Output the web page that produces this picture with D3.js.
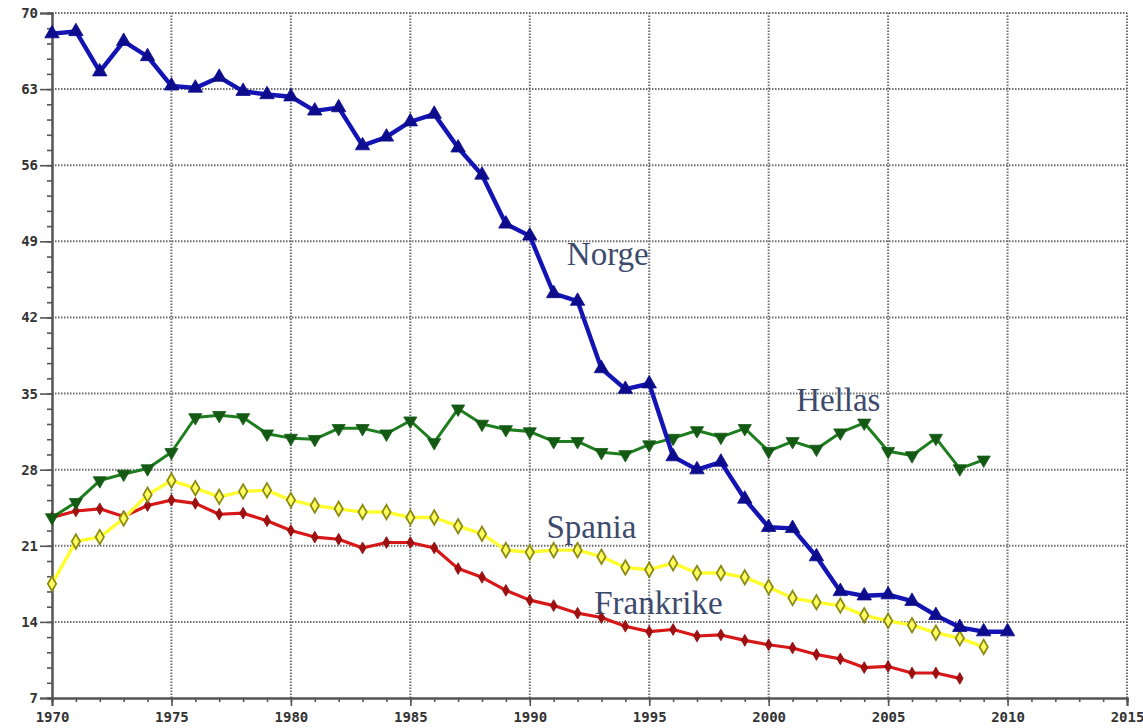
<!DOCTYPE html>
<html><head><meta charset="utf-8">
<script src="https://cdn.jsdelivr.net/npm/d3@7"></script>
<style>
html,body{margin:0;padding:0;background:#fff;}
svg{display:block;}
</style></head>
<body>
<script>
const years = d3.range(1970, 2011);
const norge = [68.1,68.3,64.6,67.4,66.0,63.3,63.1,64.1,62.8,62.5,62.3,61.0,61.3,57.8,58.6,60.0,60.7,57.6,55.1,50.6,49.5,44.2,43.5,37.3,35.4,35.9,29.2,28.0,28.7,25.3,22.7,22.6,20.0,16.8,16.4,16.5,15.9,14.6,13.5,13.1,13.1];
const hellas = [23.6,25.0,27.0,27.6,28.1,29.6,32.8,33.0,32.8,31.3,30.9,30.8,31.8,31.8,31.3,32.5,30.5,33.6,32.2,31.7,31.5,30.6,30.6,29.6,29.4,30.3,30.9,31.6,31.0,31.8,29.7,30.6,29.9,31.4,32.3,29.7,29.3,30.9,28.1,28.9];
const spania = [17.5,21.4,21.8,23.5,25.7,27.0,26.3,25.5,26.0,26.1,25.2,24.7,24.4,24.1,24.1,23.6,23.6,22.8,22.1,20.6,20.4,20.6,20.6,20.0,19.0,18.8,19.4,18.5,18.5,18.1,17.2,16.2,15.8,15.5,14.6,14.1,13.7,13.0,12.5,11.7];
const frankrike = [23.6,24.2,24.4,23.7,24.7,25.2,24.9,23.9,24.0,23.3,22.4,21.8,21.6,20.8,21.3,21.3,20.8,18.9,18.1,16.9,16.0,15.5,14.8,14.4,13.6,13.1,13.3,12.7,12.8,12.3,11.9,11.6,11.0,10.6,9.8,9.9,9.3,9.3,8.8];
const yTicks = [7,14,21,28,35,42,49,56,63,70];
const xTicks = [1970,1975,1980,1985,1990,1995,2000,2005,2010,2015];
const labels = [
  {text:"Norge", year:1991.55, value:46.8},
  {text:"Hellas", year:2001.15, value:33.4},
  {text:"Spania", year:1990.7, value:21.7},
  {text:"Frankrike", year:1992.7, value:14.75}
];

const W = 1143, H = 728;
const m = {left:52, right:16, top:13, bottom:30};
const svg = d3.select("body").append("svg").attr("width", W).attr("height", H);
const x = d3.scaleLinear().domain([1970, 2015]).range([m.left, W - m.right]);
const y = d3.scaleLinear().domain([7, 70]).range([H - m.bottom, m.top]);

// grid
const grid = svg.append("g").attr("stroke", "#4a4a4a").attr("stroke-width", 2).attr("stroke-dasharray", "1.5,1.5").attr("opacity", 0.8);
yTicks.filter(d => d > 7).forEach(v => {
  grid.append("line").attr("x1", x(1970)).attr("x2", x(2015)).attr("y1", y(v)).attr("y2", y(v));
});
xTicks.filter(d => d > 1970).forEach(v => {
  grid.append("line").attr("x1", x(v)).attr("x2", x(v)).attr("y1", y(7)).attr("y2", y(70));
});

// axes
const tickFont = "bold 14px 'DejaVu Sans Mono', monospace";
const xAxisMinor = d3.axisBottom(x).tickValues(d3.range(1970, 2016)).tickSize(4).tickFormat("");
const gxm = svg.append("g").attr("transform", `translate(0,${y(7)})`).call(xAxisMinor);
const xAxis = d3.axisBottom(x).tickValues(xTicks).tickSize(8).tickPadding(6).tickFormat(d3.format("d"));
const gx = svg.append("g").attr("transform", `translate(0,${y(7)})`).call(xAxis);
const yAxisMinor = d3.axisLeft(y).tickValues(d3.range(7, 70.01, 1.4)).tickSize(5).tickFormat("");
const gym = svg.append("g").attr("transform", `translate(${x(1970)},0)`).call(yAxisMinor);
const yAxis = d3.axisLeft(y).tickValues(yTicks).tickSize(12).tickPadding(2).tickFormat(d3.format("d"));
const gy = svg.append("g").attr("transform", `translate(${x(1970)},0)`).call(yAxis);
[gx, gy, gxm, gym].forEach(g => {
  g.selectAll(".domain").attr("stroke", "#555").attr("stroke-width", 2);
  g.selectAll(".tick line").attr("stroke", "#555").attr("stroke-width", 1.6);
  g.selectAll("text").style("font", tickFont).attr("fill", "#333");
});
gy.selectAll(".tick line").attr("x1", 1);
gx.selectAll(".tick line").attr("y1", -1);

function drawSeries(vals, color, width, markerFn) {
  const data = vals.map((v, i) => ({year: years[i], value: v}));
  const line = d3.line().x(d => x(d.year)).y(d => y(d.value));
  const g = svg.append("g");
  g.append("path").datum(data).attr("d", line).attr("fill", "none")
    .attr("stroke", color).attr("stroke-width", width).attr("stroke-linejoin", "round");
  data.forEach(d => markerFn(g, x(d.year), y(d.value)));
}

const sym = (type, size) => d3.symbol().type(type).size(size)();

drawSeries(frankrike, "#d81818", 3.2, (g, cx, cy) => {
  g.append("path").attr("d", sym(d3.symbolDiamond, 40)).attr("transform", `translate(${cx},${cy})`)
    .attr("fill", "#a01010").attr("stroke", "#8a0a0a").attr("stroke-width", 0.8);
});
drawSeries(spania, "#ffff30", 3.4, (g, cx, cy) => {
  g.append("path").attr("d", sym(d3.symbolDiamond, 60)).attr("transform", `translate(${cx},${cy})`)
    .attr("fill", "#ffff60").attr("stroke", "#8c8a10").attr("stroke-width", 1.8);
});
drawSeries(hellas, "#1e7d1e", 3, (g, cx, cy) => {
  g.append("path").attr("d", sym(d3.symbolTriangle, 75)).attr("transform", `translate(${cx},${cy}) rotate(180)`)
    .attr("fill", "#145a14").attr("stroke", "#145a14").attr("stroke-width", 0.8);
});
drawSeries(norge, "#1414b4", 4.4, (g, cx, cy) => {
  g.append("path").attr("d", sym(d3.symbolTriangle, 90)).attr("transform", `translate(${cx},${cy})`)
    .attr("fill", "#0c0c8c").attr("stroke", "#0c0c8c").attr("stroke-width", 0.8);
});

// labels
svg.append("g").selectAll("text").data(labels).join("text")
  .attr("x", d => x(d.year)).attr("y", d => y(d.value))
  .text(d => d.text)
  .style("font", "33px 'Liberation Serif', 'Times New Roman', serif")
  .attr("fill", "#3d4a6c");
</script>
</body></html>
